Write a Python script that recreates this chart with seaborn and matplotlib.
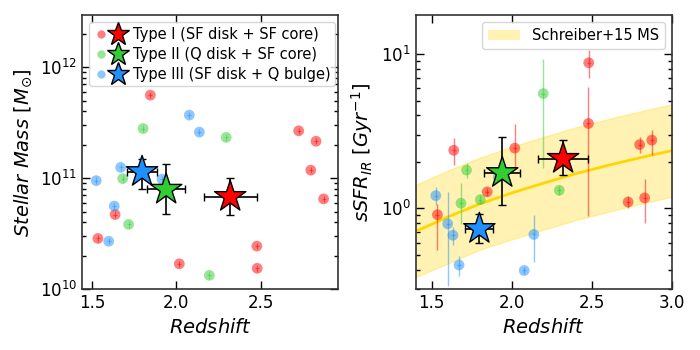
import numpy as np
import pandas as pd
import seaborn as sns
import matplotlib.pyplot as plt
from matplotlib.lines import Line2D
from matplotlib.patches import Patch
from matplotlib.legend_handler import HandlerTuple

# ---- data ----
# Type I (SF disk + SF core)
z_t1 = [1.535, 1.637, 1.846, 2.018, 2.478, 2.480, 2.726, 2.798, 2.829, 2.874]
mass_t1 = [2.86e10, 4.7e10, 5.6e11, 1.69e10, 2.44e10, 1.54e10, 2.67e11, 1.18e11, 2.15e11, 6.5e10]
ssfr_t1 = [0.91, 2.38, 1.28, 2.46, 3.55, 8.78, 1.10, 2.59, 1.17, 2.77]
ssfr_lo_t1 = [0.37, 0.48, 0.08, 0.64, 2.66, 1.80, 0.10, 0.30, 0.37, 0.56]
ssfr_hi_t1 = [0.16, 0.46, 0.08, 1.05, 2.55, 1.80, 0.11, 0.31, 0.39, 0.43]

# Type II (Q disk + SF core)
z_t2 = [1.682, 1.717, 1.803, 2.196, 2.296]
mass_t2 = [9.9e10, 3.83e10, 2.8e11, 1.33e10, 2.33e11]
ssfr_t2 = [1.08, 1.77, 1.14, 5.55, 1.31]
ssfr_lo_t2 = [0.29, 0.20, 0.08, 3.73, 0.08]
ssfr_hi_t2 = [0.38, 0.20, 0.08, 3.69, 0.08]

# Type III (SF disk + Q bulge)
z_t3 = [1.525, 1.599, 1.632, 1.670, 1.915, 2.077, 2.137]
mass_t3 = [9.5e10, 2.7e10, 5.6e10, 1.25e11, 9.8e10, 3.7e11, 2.6e11]
ssfr_t3 = [1.21, 0.795, 0.67, 0.43, 1.60, 0.396, 0.678]
ssfr_lo_t3 = [0.16, 0.48, 0.095, 0.063, 0.10, 0.02, 0.23]
ssfr_hi_t3 = [0.16, 0.48, 0.09, 0.065, 0.10, 0.02, 0.23]

# group means (stars)
mean_z = [2.32, 1.94, 1.797]
mean_z_err = [0.157, 0.113, 0.088]
mean_mass = [6.8e10, 7.9e10, 1.14e11]
mean_mass_lo = [2.1e10, 3.1e10, 0.35e11]
mean_mass_hi = [3.2e10, 5.4e10, 0.34e11]
mean_ssfr = [2.10, 1.70, 0.738]
mean_ssfr_lo = [0.46, 0.65, 0.14]
mean_ssfr_hi = [0.67, 1.20, 0.18]

# Schreiber+15 main sequence (line and +-0.3 dex band)
ms_z = [1.4, 1.6, 1.8, 2.0, 2.2, 2.4, 2.6, 2.8, 3.0]
ms_ssfr = [0.71, 0.88, 1.07, 1.26, 1.46, 1.68, 1.90, 2.13, 2.37]
ms_lo = [0.36, 0.44, 0.54, 0.63, 0.73, 0.84, 0.95, 1.07, 1.19]
ms_hi = [1.42, 1.76, 2.13, 2.51, 2.91, 3.35, 3.79, 4.25, 4.73]

labels = ["Type I (SF disk + SF core)", "Type II (Q disk + SF core)",
          "Type III (SF disk + Q bulge)"]
colors = ["#ff0000", "#32cd32", "#1e90ff"]

groups = [
    (z_t1, mass_t1, ssfr_t1, ssfr_lo_t1, ssfr_hi_t1),
    (z_t2, mass_t2, ssfr_t2, ssfr_lo_t2, ssfr_hi_t2),
    (z_t3, mass_t3, ssfr_t3, ssfr_lo_t3, ssfr_hi_t3),
]

sns.set_style("ticks")
plt.rcParams["font.family"] = ["DejaVu Sans"]
plt.rcParams["mathtext.fontset"] = "dejavusans"
for key in ["text.color", "axes.labelcolor", "xtick.color", "ytick.color"]:
    plt.rcParams[key] = "black"

fig = plt.figure(figsize=(7, 3.5), dpi=100)
ax1 = fig.add_axes([0.117, 0.174, 0.366, 0.783])
ax2 = fig.add_axes([0.594, 0.174, 0.366, 0.783])

# Schreiber band
ax2.fill_between(ms_z, ms_lo, ms_hi, color="#ffd700", alpha=0.3, lw=1, zorder=0)
ax2.plot(ms_z, ms_ssfr, color="#ffd700", lw=2, zorder=1)

for (z, m, s, slo, shi), c in zip(groups, colors):
    m = np.array(m)
    df = pd.DataFrame({"z": z, "mass": m, "ssfr": s})
    # small mass/redshift errors drawn as crosses inside the circles
    ax1.errorbar(z, m, xerr=0.012, yerr=[m * 0.065, m * 0.07],
                 fmt="none", ecolor=c, elinewidth=0.8, alpha=0.5, zorder=2)
    sns.scatterplot(data=df, x="z", y="mass", ax=ax1, color=c, alpha=0.5,
                    s=60, edgecolor="none", zorder=2, legend=False)
    ax2.errorbar(z, s, xerr=0.012, yerr=[slo, shi], fmt="none", ecolor=c,
                 elinewidth=1.0, alpha=0.5, zorder=2)
    sns.scatterplot(data=df, x="z", y="ssfr", ax=ax2, color=c, alpha=0.5,
                    s=60, edgecolor="none", zorder=2, legend=False)

for i, c in enumerate(colors):
    ax1.errorbar(mean_z[i], mean_mass[i], xerr=mean_z_err[i],
                 yerr=[[mean_mass_lo[i]], [mean_mass_hi[i]]], fmt="none",
                 ecolor="black", elinewidth=1.2, capsize=3, zorder=4)
    ax2.errorbar(mean_z[i], mean_ssfr[i], xerr=mean_z_err[i],
                 yerr=[[mean_ssfr_lo[i]], [mean_ssfr_hi[i]]], fmt="none",
                 ecolor="black", elinewidth=1.2, capsize=3, zorder=4)
stars = pd.DataFrame({"z": mean_z, "mass": mean_mass, "ssfr": mean_ssfr,
                      "type": labels})
for ax, col in [(ax1, "mass"), (ax2, "ssfr")]:
    sns.scatterplot(data=stars, x="z", y=col, hue="type", palette=colors,
                    marker="*", s=560, edgecolor="black", linewidth=1.0,
                    ax=ax, zorder=5, legend=False)

for ax in (ax1, ax2):
    ax.set_yscale("log")
    ax.tick_params(which="both", direction="in", top=True, right=True,
                   labelsize=12)
    ax.tick_params(which="major", length=6, width=1)
    ax.tick_params(which="minor", length=3, width=1)
    for sp in ax.spines.values():
        sp.set_linewidth(1.2)
        sp.set_color("#333333")
    ax.set_xlabel("$Redshift$", fontsize=14)

ax1.set_xlim(1.44, 2.96)
ax1.set_ylim(1e10, 2.95e12)
ax1.set_xticks([1.5, 2.0, 2.5])
ax1.set_ylabel(r"$Stellar\ Mass\ [M_{\odot}]$", fontsize=14)

ax2.set_xlim(1.4, 3.0)
ax2.set_ylim(0.3, 17.9)
ax2.set_xticks([1.5, 2.0, 2.5, 3.0])
ax2.set_ylabel(r"$sSFR_{IR}\ [Gyr^{-1}]$", fontsize=14)

handles = []
for c in colors:
    dot = Line2D([], [], marker="o", ls="none", color=c, alpha=0.5,
                 markersize=6, markeredgecolor="none")
    star = Line2D([], [], marker="*", ls="none", markerfacecolor=c,
                  markeredgecolor="black", markersize=17)
    handles.append((dot, star))
ax1.legend(handles, labels, handler_map={tuple: HandlerTuple(ndivide=None, pad=0.1)},
           loc="upper left", fontsize=10.5, handlelength=2.2, handletextpad=0.5,
           borderpad=0.3, labelspacing=0.35, borderaxespad=0.5, framealpha=0.8)

ax2.legend([Patch(facecolor="#ffd700", alpha=0.3, edgecolor="none")],
           ["Schreiber+15 MS"], loc="upper right", fontsize=10.5,
           handlelength=2.2, handletextpad=0.8, borderaxespad=0.5)

fig.savefig("out.png", dpi=100)
